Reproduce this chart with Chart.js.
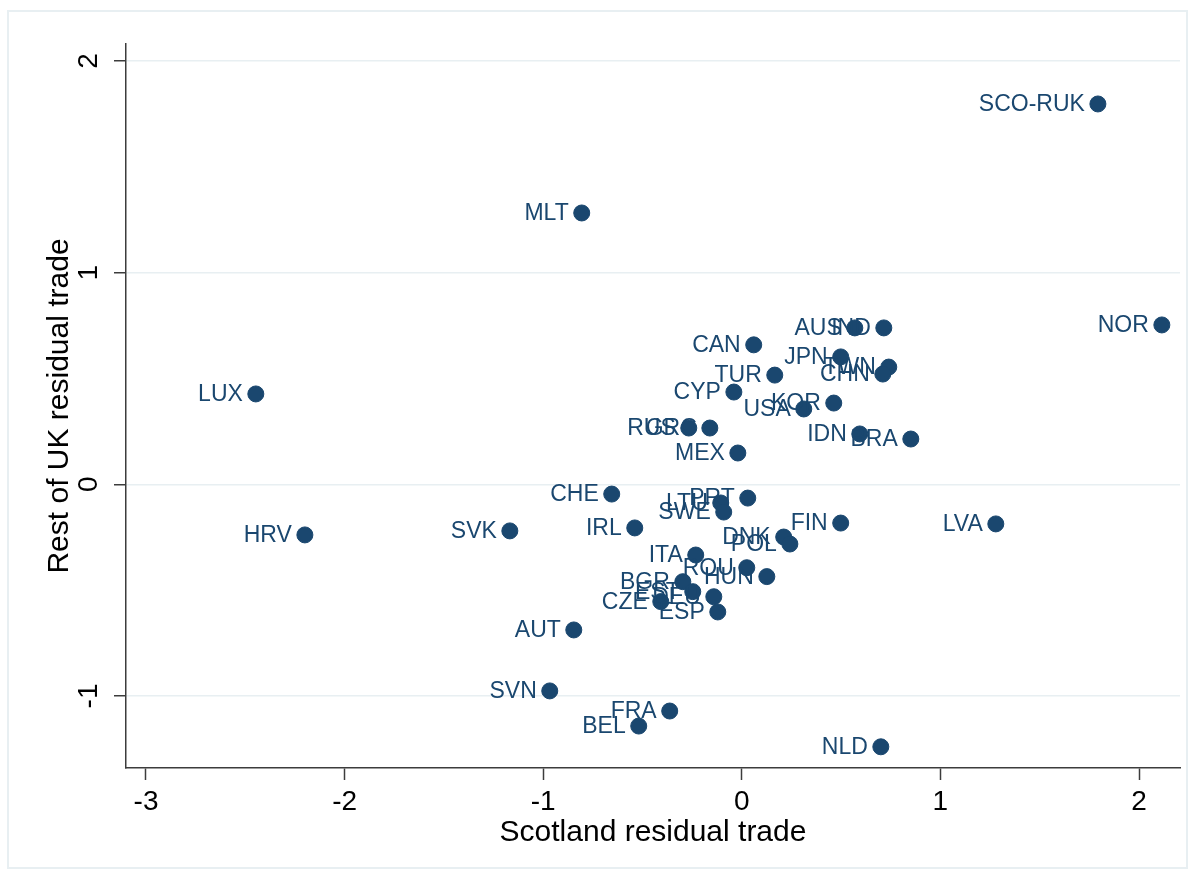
<!DOCTYPE html>
<html>
<head>
<meta charset="utf-8">
<script src="https://cdn.jsdelivr.net/npm/chart.js@4.4.0/dist/chart.umd.min.js"></script>
<style>
  html, body { margin: 0; padding: 0; background: #fff; }
</style>
</head>
<body>
<canvas id="chartResults" width="1197" height="877"></canvas>
<script>
'use strict';

const countryLabels = [
    'SCO-RUK', 'MLT', 'NOR', 'LUX', 'AUS', 'IND', 'CAN', 'JPN', 'TWN', 'CHN',
    'TUR', 'CYP', 'KOR', 'USA', 'IDN', 'BRA', 'RUS', 'GRC', 'MEX', 'CHE',
    'PRT', 'LTU', 'SWE', 'IRL', 'FIN', 'LVA', 'SVK', 'HRV', 'DNK', 'POL',
    'ITA', 'ROU', 'HUN', 'BGR', 'EST', 'DEU', 'CZE', 'ESP', 'AUT', 'SVN',
    'FRA', 'BEL', 'NLD'
];
const scotlandResidual = [
    1.793, -0.806, 2.115, -2.447, 0.569, 0.715, 0.060, 0.498, 0.740, 0.710,
    0.166, -0.040, 0.463, 0.312, 0.594, 0.851, -0.267, -0.161, -0.020, -0.655,
    0.030, -0.106, -0.091, -0.539, 0.498, 1.279, -1.168, -2.200, 0.211, 0.242,
    -0.232, 0.025, 0.126, -0.297, -0.247, -0.141, -0.408, -0.121, -0.846, -0.967,
    -0.363, -0.519, 0.700
];
const rukResidual = [
    1.797, 1.282, 0.753, 0.427, 0.739, 0.739, 0.659, 0.602, 0.554, 0.521,
    0.516, 0.436, 0.384, 0.356, 0.238, 0.214, 0.266, 0.266, 0.148, -0.046,
    -0.065, -0.088, -0.131, -0.206, -0.183, -0.187, -0.220, -0.239, -0.249, -0.282,
    -0.334, -0.394, -0.436, -0.460, -0.507, -0.531, -0.554, -0.603, -0.688, -0.976,
    -1.071, -1.142, -1.240
];
const xTickValues = [-3, -2, -1, 0, 1, 2];
const yTickValues = [-1, 0, 1, 2];
const xAxisTitle = 'Scotland residual trade';
const yAxisTitle = 'Rest of UK residual trade';

const navy = '#1a476f';
const axisColor = '#3c3c3c';
const gridColor = '#e8eff2';
const fontFamily = '"Liberation Sans", Arial, sans-serif';

let points = [];
for (let i = 0; i < countryLabels.length; i++) {
    points.push({ x: scotlandResidual[i], y: rukResidual[i] });
}

// white page with the light outer frame
const graphFrame = {
    id: 'graphFrame',
    beforeDraw(chart) {
        const ctx = chart.ctx;
        ctx.save();
        ctx.fillStyle = '#ffffff';
        ctx.fillRect(0, 0, chart.width, chart.height);
        ctx.strokeStyle = gridColor;
        ctx.lineWidth = 2;
        ctx.strokeRect(8, 11, chart.width - 18, chart.height - 20);
        ctx.restore();
    }
};

// country names to the left of each marker
const pointLabels = {
    id: 'pointLabels',
    afterDatasetsDraw(chart) {
        const ctx = chart.ctx;
        const meta = chart.getDatasetMeta(0);
        ctx.save();
        ctx.font = '23px ' + fontFamily;
        ctx.fillStyle = navy;
        ctx.textAlign = 'right';
        ctx.textBaseline = 'middle';
        meta.data.forEach((pt, i) => {
            ctx.fillText(countryLabels[i], pt.x - 13, pt.y + 1);
        });
        ctx.restore();
    }
};

const data = {
    datasets: [
        {
            data: points,
            backgroundColor: navy,
            borderColor: navy,
            borderWidth: 1,
            pointRadius: 8,
            pointHoverRadius: 8,
        },
    ]
};

const config = {
    type: 'scatter',
    data: data,
    options: {
        responsive: false,
        animation: false,
        devicePixelRatio: 1,
        layout: { padding: { top: 44, right: 17, left: 0, bottom: 0 } },
        plugins: {
            legend: { display: false },
            tooltip: { enabled: false },
        },
        scales: {
            x: {
                type: 'linear',
                position: 'bottom',
                min: -3.1007,
                max: 2.2064,
                afterBuildTicks: (scale) => { scale.ticks = xTickValues.map(v => ({ value: v })); },
                afterFit: (scale) => { scale.height = 109; },
                grid: { drawOnChartArea: false, drawTicks: true, tickLength: 12, tickColor: axisColor, tickWidth: 1.5 },
                border: { color: axisColor, width: 1.5 },
                ticks: { color: '#000', padding: 5, font: { family: fontFamily, size: 28 } },
                title: {
                    display: true,
                    text: xAxisTitle,
                    color: '#000',
                    font: { family: fontFamily, size: 30 },
                    padding: { top: 0, bottom: 26 },
                },
            },
            y: {
                type: 'linear',
                position: 'left',
                min: -1.3402,
                max: 2.0803,
                afterBuildTicks: (scale) => { scale.ticks = yTickValues.map(v => ({ value: v })); },
                afterFit: (scale) => { scale.width = 126; },
                grid: { color: gridColor, lineWidth: 1.5, drawTicks: true, tickLength: 12, tickColor: axisColor, tickWidth: 1.5 },
                border: { color: axisColor, width: 1.5 },
                ticks: { color: '#000', padding: 12, minRotation: 90, maxRotation: 90, crossAlign: 'center', font: { family: fontFamily, size: 28 } },
                title: {
                    display: true,
                    text: yAxisTitle,
                    color: '#000',
                    font: { family: fontFamily, size: 30 },
                    padding: { top: 42, bottom: 0 },
                },
            },
        },
    },
    plugins: [graphFrame, pointLabels],
};

let resultsChart = document.getElementById('chartResults');
const chartResults = new Chart(resultsChart, config);
</script>
</body>
</html>
